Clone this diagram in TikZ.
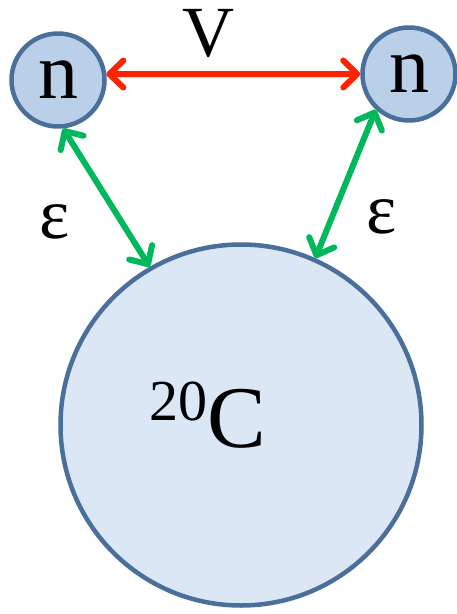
\documentclass[tikz,border=0pt]{standalone}
\usepackage{fontspec}
\setmainfont{Liberation Serif}
\usetikzlibrary{arrows.meta}
\definecolor{rim}{HTML}{4A6F9B}
\definecolor{nfill}{HTML}{B9D0E8}
\definecolor{cfill}{HTML}{DCE7F5}
\definecolor{vred}{HTML}{FF2200}
\definecolor{egreen}{HTML}{00B85C}
\tikzset{
  nuc/.style={circle,draw=rim,line width=4.5pt,fill=nfill,inner sep=0pt,minimum size=93pt,font=\fontsize{80}{80}\selectfont},
  core/.style={circle,draw=rim,line width=4.5pt,fill=cfill,inner sep=0pt,minimum size=361pt},
  tip/.tip={Straight Barb[length=14pt,width=27pt,round]},
  vv/.style={draw=vred,line width=6pt,tip-tip},
  ee/.style={draw=egreen,line width=6pt,tip-tip},
  lab/.style={inner sep=0pt,font=\fontsize{72}{72}\selectfont}
}

\begin{document}
\begin{tikzpicture}[x=1pt,y=-1pt]
\useasboundingbox (0,0) rectangle (457,614);
\node[core] (c20) at (241,425) {};
\node[nuc] (nl) at (58,80) {n};
\node[nuc] (nr) at (409,74) {n};
\node[lab,anchor=base] (clab) at (208,447) {\raisebox{27pt}{\fontsize{58}{58}\selectfont 20}\fontsize{88}{88}\selectfont C};
\draw[vv] (nl.7) -- (nr.west);
\node[lab] (vlab) at (208,33) {V};
\draw[ee] (nl.-84) -- (c20.120);
\draw[ee] (nr.-133) -- (c20.66);
\node[lab] (el) at (55,222) {ε};
\node[lab] (er) at (382,217) {ε};
\end{tikzpicture}
\end{document}
